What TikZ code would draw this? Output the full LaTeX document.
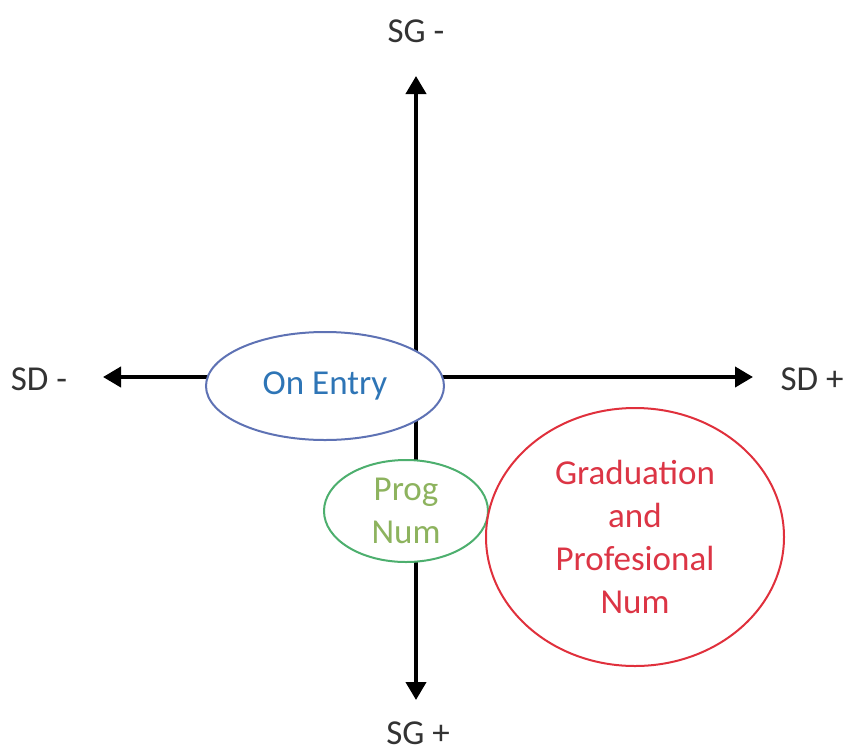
\documentclass[tikz,border=0pt]{standalone}
\usepackage{fontspec}
\setmainfont{Carlito}
\usetikzlibrary{shapes.geometric, arrows.meta}
\definecolor{qdBlue}{HTML}{2E75B6}
\definecolor{qdBlueLine}{HTML}{5E72B4}
\definecolor{qdGreen}{HTML}{8DB35E}
\definecolor{qdGreenLine}{HTML}{4DAF6E}
\definecolor{qdRed}{HTML}{DC3545}
\definecolor{qdRedLine}{HTML}{E0303C}
\definecolor{qdText}{HTML}{333333}
\tikzset{
  qdaxis/.style={-{Triangle[length=18pt, width=20pt]}, line width=4pt, color=black},
  qdzone/.style={ellipse, draw, line width=2pt, fill=white, align=center, inner sep=0pt},
  qdlabel/.style={text=qdText, inner sep=1pt},
}

\begin{document}
\begin{tikzpicture}[x=1pt, y=-1pt, font=\fontsize{35}{43}\selectfont]
  \useasboundingbox (0,0) rectangle (846,753);
  % axes
  \coordinate (o) at (416,377);
  \coordinate (top) at (416,76);
  \coordinate (bot) at (416,700);
  \coordinate (lft) at (103,377);
  \coordinate (rgt) at (753,377);
  \node[qdlabel](sgm) at (416,31){SG -};
  \node[qdlabel](sgp) at (418,733){SG +};
  \node[qdlabel](sdm) at (39,379){SD -};
  \node[qdlabel](sdp) at (812,379){SD +};
  \draw[qdaxis](o)--(top);
  \draw[qdaxis](o)--(bot);
  \draw[qdaxis](o)--(lft);
  \draw[qdaxis](o)--(rgt);
  % zones
  \node[qdzone, draw=qdBlueLine, text=qdBlue, minimum width=238pt, minimum height=108pt](entry) at (325,386){On Entry};
  \node[qdzone, draw=qdGreenLine, text=qdGreen, minimum width=164pt, minimum height=102pt](prog) at (406,511){Prog\\Num};
  \node[qdzone, draw=qdRedLine, text=qdRed, minimum width=298pt, minimum height=258pt](grad) at (635,537){Graduation\\and\\Profesional\\Num};
\end{tikzpicture}
\end{document}
